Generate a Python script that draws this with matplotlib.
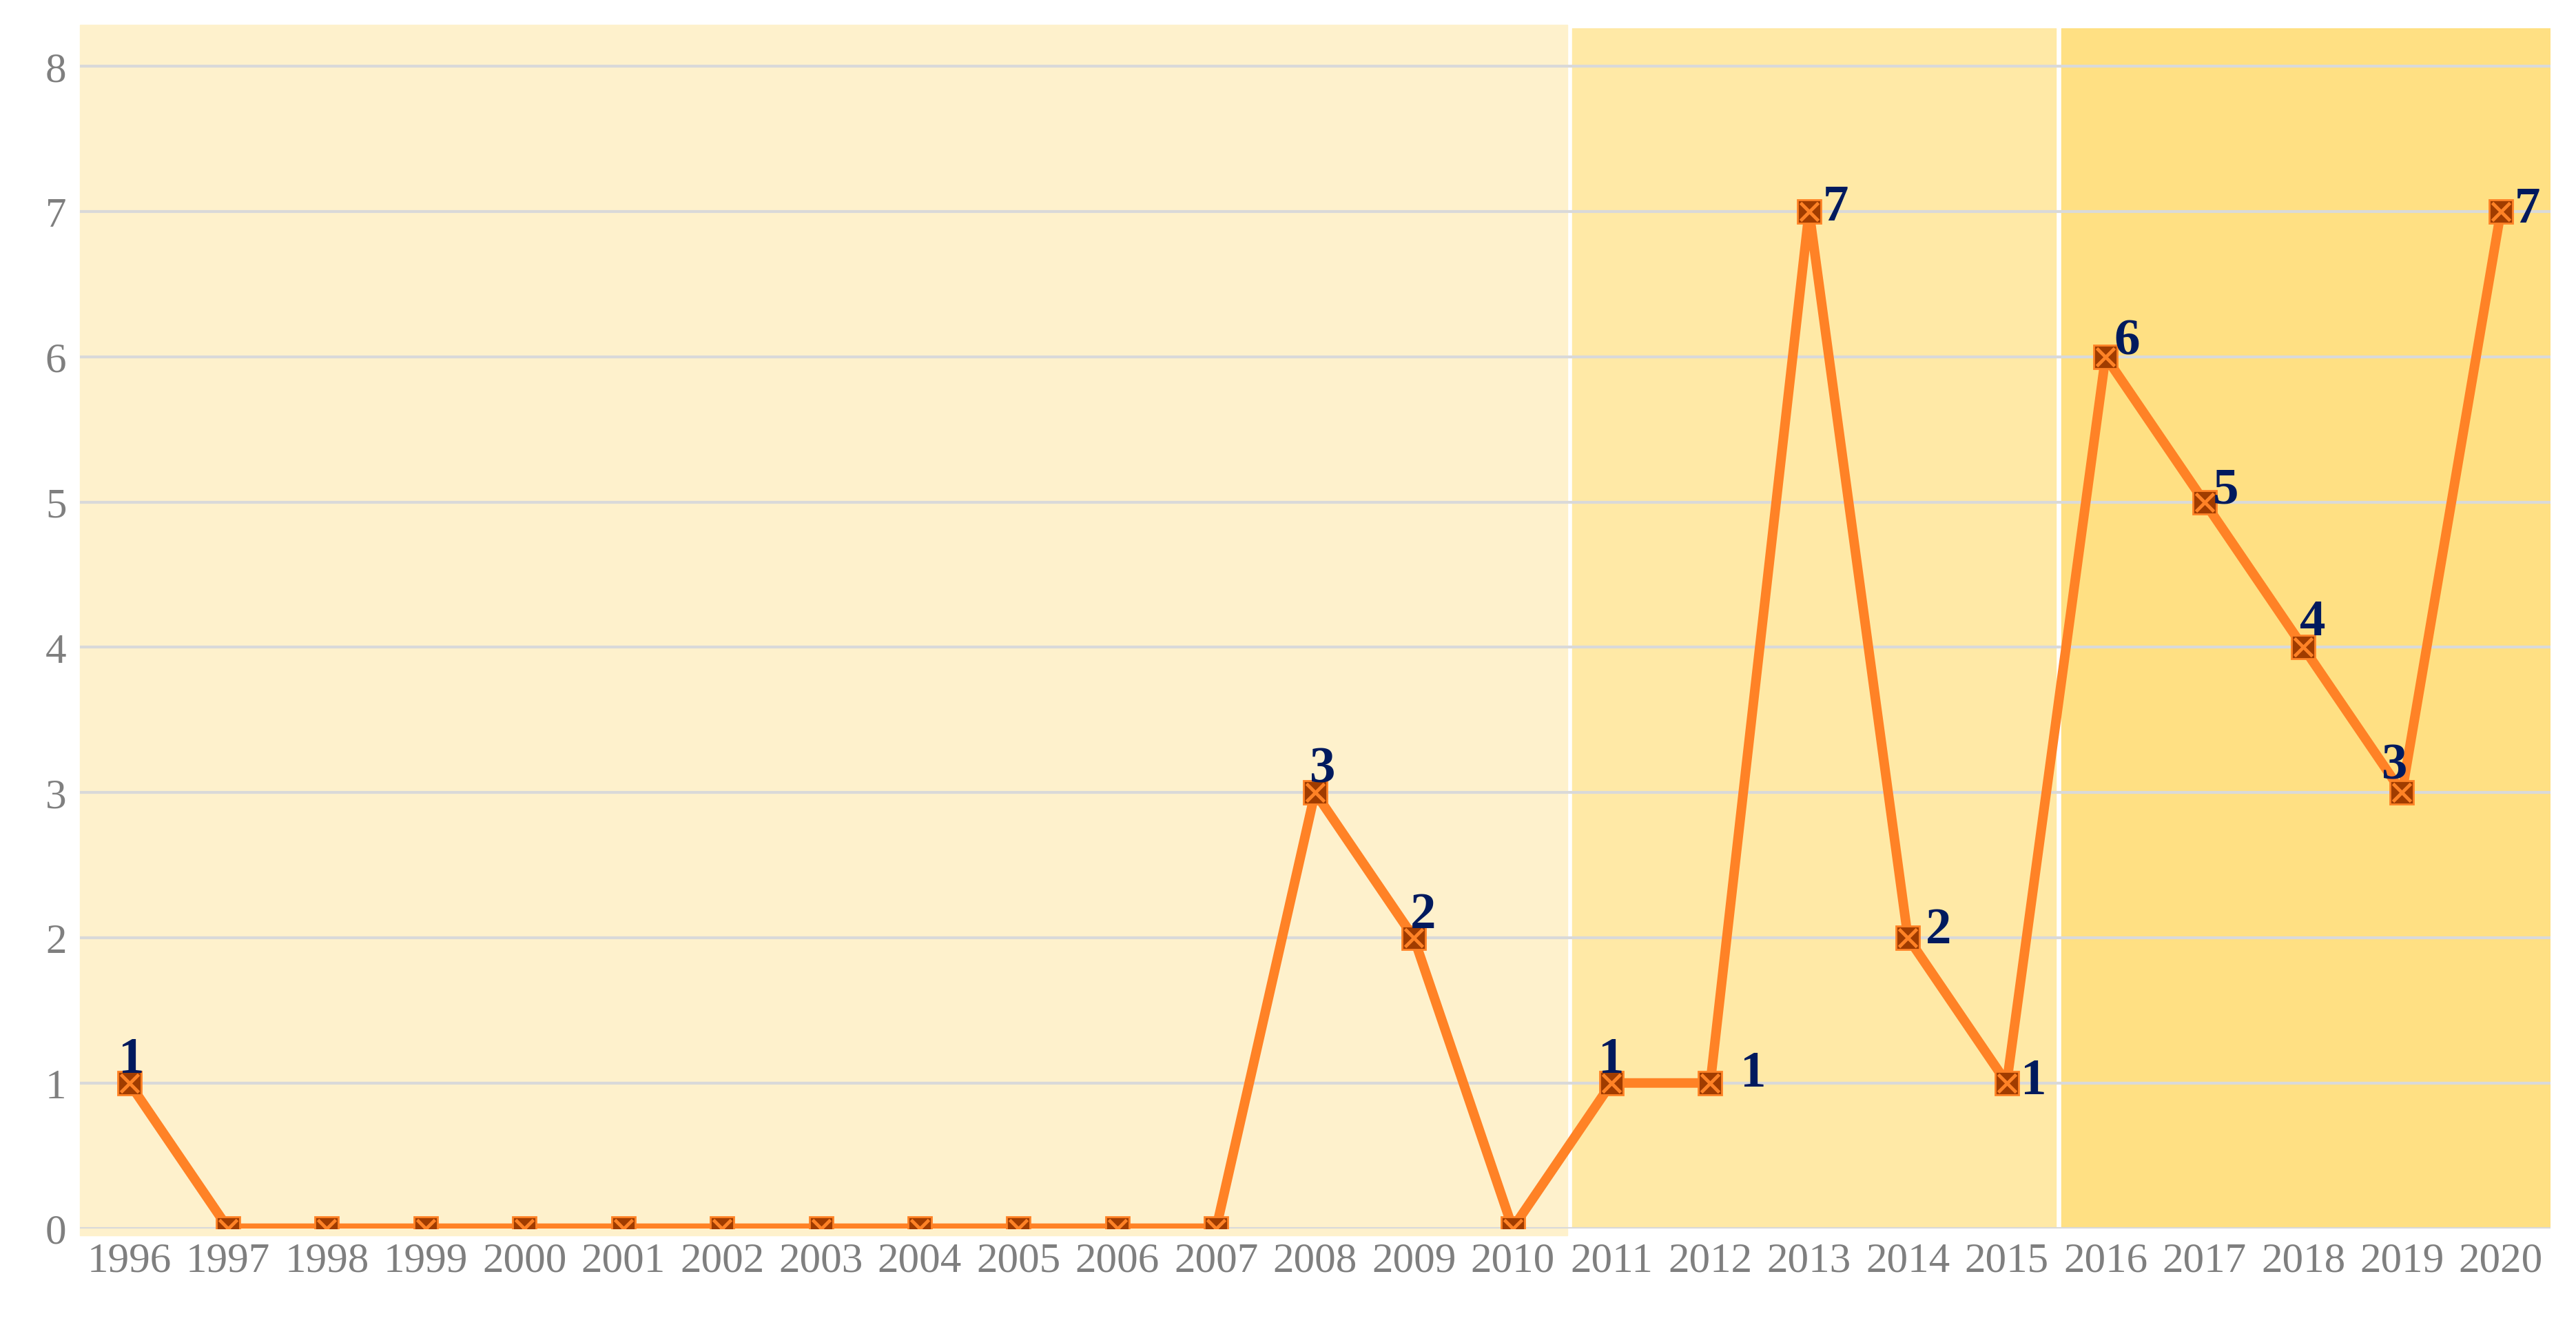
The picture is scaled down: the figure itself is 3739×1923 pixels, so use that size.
import matplotlib
matplotlib.use("Agg")
import matplotlib.pyplot as plt

years = list(range(1996, 2021))
counts = [1, 0, 0, 0, 0, 0, 0, 0, 0, 0, 0, 0, 3, 2, 0, 1, 1, 7, 2, 1, 6, 5, 4, 3, 7]
# label offsets in points (dx, dy)
offsets = {1996: (2, 24), 2008: (8, 24), 2009: (10, 24), 2011: (0, 24),
           2012: (45, 10), 2013: (28, 4), 2014: (32, 8), 2015: (28, 2),
           2016: (22, 16), 2017: (22, 12), 2018: (10, 26), 2019: (-8, 28),
           2020: (28, 2)}

fig, ax = plt.subplots(figsize=(37.39, 19.24), dpi=100)
fig.subplots_adjust(left=0.031, right=0.99, top=0.978, bottom=0.073)

ax.axvspan(1995.5, 2010.55, ymin=-0.006, ymax=1.003, color='#FEF1CC', zorder=0, clip_on=False)
ax.axvspan(2010.6, 2015.5, ymax=1.0, color='#FFE9A6', zorder=0)
ax.axvspan(2015.55, 2020.5, ymax=1.0, color='#FFE083', zorder=0)

ax.grid(axis='y', color='#D9D9D9', linewidth=3, zorder=1)
ax.set_axisbelow(False)
ax.plot(years, counts, color='#FF8226', linewidth=10, zorder=3)
ax.plot(years, counts, ls='none', marker='s', markersize=25, markerfacecolor='#A03C00',
        markeredgecolor='#FF8226', markeredgewidth=2, zorder=4)
ax.plot(years, counts, ls='none', marker='x', markersize=19, markeredgecolor='#FF8226',
        markeredgewidth=3.5, zorder=5)

for y, c in zip(years, counts):
    if y in offsets:
        dx, dy = offsets[y]
        ax.annotate(str(c), (y, c), xytext=(dx, dy), textcoords='offset points',
                    ha='center', va='center', fontsize=54, fontweight='bold',
                    color='#001A5E', family='Liberation Serif', zorder=6)

ax.set_xlim(1995.5, 2020.5)
ax.set_ylim(0, 8.26)
ax.set_xticks(years)
ax.set_xticklabels([str(y) for y in years])
ax.set_yticks(range(0, 9))
for lab in ax.get_xticklabels() + ax.get_yticklabels():
    lab.set_family('Liberation Serif')
    lab.set_fontsize(44)
    lab.set_color('#7F7F7F')
ax.tick_params(length=0, pad=14)
for s in ax.spines.values():
    s.set_visible(False)

plt.savefig('out.png', dpi=100, facecolor='white')
